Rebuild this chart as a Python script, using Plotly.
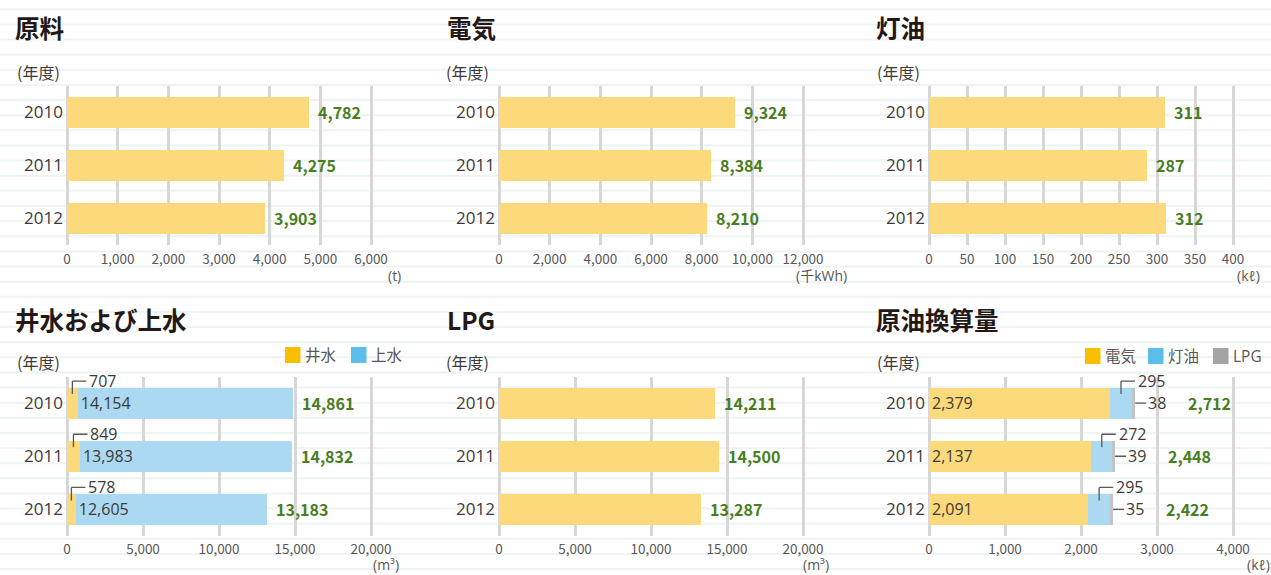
import plotly.graph_objects as go

# ---------------- data ----------------
years = ["2010", "2011", "2012"]

raw_material = [4782, 4275, 3903]          # 原料 (t)
electricity = [9324, 8384, 8210]           # 電気 (千kWh)
kerosene = [311, 287, 312]                 # 灯油 (kℓ)
well_water = [707, 849, 578]               # 井水 (m3)
city_water = [14154, 13983, 12605]         # 上水 (m3)
water_total = [14861, 14832, 13183]
lpg = [14211, 14500, 13287]                # LPG (m3)
crude_elec = [2379, 2137, 2091]            # 原油換算量 電気 (kℓ)
crude_kero = [295, 272, 295]               # 原油換算量 灯油
crude_lpg = [38, 39, 35]                   # 原油換算量 LPG
crude_total = [2712, 2448, 2422]

ticks_raw = [0, 1000, 2000, 3000, 4000, 5000, 6000]
ticks_elec = [0, 2000, 4000, 6000, 8000, 10000, 12000]
ticks_kero = [0, 50, 100, 150, 200, 250, 300, 350, 400]
ticks_water = [0, 5000, 10000, 15000, 20000]
ticks_lpg = [0, 5000, 10000, 15000, 20000]
ticks_crude = [0, 1000, 2000, 3000, 4000]

titles = ["原料", "電気", "灯油", "井水および上水", "LPG", "原油換算量"]
units = ["(t)", "(千kWh)", "(kℓ)", "(m³)", "(m³)", "(kℓ)"]
year_label = "(年度)"

# ---------------- style ----------------
W, H = 1271, 575
FONT = "Noto Sans CJK JP, Noto Sans, sans-serif"
NUMFONT = "Open Sans, Noto Sans CJK JP, sans-serif"
BAR_Y = "#fcd97b"
BAR_B = "#abd9f1"
BAR_G = "#c4c4c4"
KEY_Y = "#f9be00"
KEY_B = "#5bbde9"
KEY_G = "#a3a4a4"
GREEN = "#4a7d1e"
DARK = "#3e3a39"
TICK = "#595757"
GRID = "#d6d6d6"
STRIPE = "#eef4f3"

col_zero_px = [67, 499, 929]
span_px = 304
row_ydom_px = [(85.5, 244.5), (376.5, 536.0)]
row_tick_standoff = [5, 3]
title_x_px = [13, 445, 874]
title_y_px = [27, 319]
yearlbl_right_px = [62, 491, 922]
yearlbl_y_px = [72, 362]
# (right edge x, bottom y) of unit labels
unit_pos_px = [(402, 286), (848, 286), (1261, 286), (400, 575), (830, 575), (1271, 575)]


def fx(px):
    return px / W


def fy(py):
    return 1 - py / H


panel_ticks = [ticks_raw, ticks_elec, ticks_kero, ticks_water, ticks_lpg, ticks_crude]
pos = list(range(len(years)))

fig = go.Figure()
layout = {}
annotations = []
shapes = []

# background stripes
for k in range(38):
    yy = 9.3 + 15.13 * k
    shapes.append(dict(type="line", xref="paper", yref="paper", x0=0, x1=1,
                       y0=fy(yy), y1=fy(yy), line=dict(color=STRIPE, width=2), layer="below"))


def axis_names(k):
    s = "" if k == 0 else str(k + 1)
    return "x" + s, "y" + s, "xaxis" + s, "yaxis" + s


for k in range(6):
    row, col = divmod(k, 3)
    xr, yr, xa, ya = axis_names(k)
    vmax = panel_ticks[k][-1]
    s = span_px / vmax
    left_px = col_zero_px[col] - 3
    right_px = min(col_zero_px[col] + span_px + 35, W - 2)
    y0p, y1p = row_ydom_px[row]
    layout[xa] = dict(
        domain=[fx(left_px), fx(right_px)],
        range=[-3 / s, vmax + (right_px - col_zero_px[col] - span_px) / s],
        anchor=yr, tickvals=panel_ticks[k], tickformat=",d",
        showgrid=True, gridcolor=GRID, gridwidth=3,
        zeroline=True, zerolinecolor=GRID, zerolinewidth=3,
        showline=False, ticks="", fixedrange=True, ticklabelstandoff=row_tick_standoff[row],
        tickfont=dict(family=FONT, size=13.5, color=TICK),
    )
    layout[ya] = dict(
        domain=[fy(y1p), fy(y0p)], range=[2.5, -0.5], anchor=xr,
        tickvals=pos, ticktext=years, showgrid=False, zeroline=False,
        showline=False, ticks="", fixedrange=True,
        tickfont=dict(family=NUMFONT, size=17, color=DARK),
    )
    # title
    annotations.append(dict(text="<b>%s</b>" % titles[k], xref="paper", yref="paper",
                            x=fx(title_x_px[col]), y=fy(title_y_px[row]), xanchor="left",
                            yanchor="middle", showarrow=False,
                            font=dict(family=FONT, size=24.5, color="#231815")))
    # (年度)
    annotations.append(dict(text=year_label, xref="paper", yref="paper",
                            x=fx(yearlbl_right_px[col]), y=fy(yearlbl_y_px[row]),
                            xanchor="right", yanchor="middle", showarrow=False,
                            font=dict(family=FONT, size=16, color=DARK)))
    # unit
    ux, uy = unit_pos_px[k]
    annotations.append(dict(text=units[k], xref="paper", yref="paper",
                            x=fx(ux), y=fy(uy), xanchor="right", yanchor="bottom",
                            showarrow=False, borderpad=0,
                            font=dict(family=NUMFONT, size=14, color=TICK)))


BW = 0.585


def hbar(vals, color, k, text=None):
    xr, yr, _, _ = axis_names(k)
    return go.Bar(x=vals, y=pos, orientation="h", width=BW, marker=dict(color=color, line=dict(width=0)),
                  xaxis=xr, yaxis=yr, hoverinfo="skip", showlegend=False,
                  text=text, textposition="inside" if text else "none",
                  insidetextanchor="start", textangle=0,
                  textfont=dict(family=NUMFONT, size=16, color=DARK))


def fmt(v):
    return f"{v:,}"


# single-series panels
singles = {0: raw_material, 1: electricity, 2: kerosene, 4: lpg}
for k, vals in singles.items():
    fig.add_trace(hbar(vals, BAR_Y, k))

# water panel
fig.add_trace(hbar(well_water, BAR_Y, 3))
fig.add_trace(hbar(city_water, BAR_B, 3, [fmt(v) for v in city_water]))

# crude oil equivalent panel
fig.add_trace(hbar(crude_elec, BAR_Y, 5, [fmt(v) for v in crude_elec]))
fig.add_trace(hbar(crude_kero, BAR_B, 5))
fig.add_trace(hbar(crude_lpg, BAR_G, 5))

# total labels
totals = {0: (raw_material, 7), 1: (electricity, 7), 2: (kerosene, 7),
          3: (water_total, 7), 4: (lpg, 7), 5: (crude_total, 51)}
for k, (vals, shift) in totals.items():
    xr, yr, _, _ = axis_names(k)
    for i, v in enumerate(vals):
        end = v if k != 5 else crude_elec[i] + crude_kero[i] + crude_lpg[i]
        annotations.append(dict(text="<b>%s</b>" % fmt(v), xref=xr, yref=yr, x=end, y=i,
                                xanchor="left", yanchor="middle", xshift=shift, showarrow=False,
                                font=dict(family=FONT, size=16, color=GREEN)))


LEAD = "#595757"


def elbow_leader(k, xmid, i, label):
    xr, yr, _, _ = axis_names(k)
    common = dict(xref=xr, yref=yr, xsizemode="pixel", ysizemode="pixel",
                  xanchor=xmid, yanchor=i, line=dict(color=LEAD, width=1.3), layer="above")
    shapes.append(dict(type="line", x0=0, x1=0, y0=9, y1=22, **common))
    shapes.append(dict(type="line", x0=0, x1=14, y0=22, y1=22, **common))
    annotations.append(dict(text=label, xref=xr, yref=yr, x=xmid, y=i, xanchor="left",
                            yanchor="middle", xshift=15, yshift=22, showarrow=False,
                            font=dict(family=NUMFONT, size=16, color=DARK)))


for i, v in enumerate(well_water):
    elbow_leader(3, v / 2, i, fmt(v))

for i in range(len(years)):
    elbow_leader(5, crude_elec[i] + crude_kero[i] / 2, i, fmt(crude_kero[i]))
    end = crude_elec[i] + crude_kero[i] + crude_lpg[i]
    xr, yr, _, _ = axis_names(5)
    shapes.append(dict(type="line", xref=xr, yref=yr, xsizemode="pixel", ysizemode="pixel",
                       xanchor=end, yanchor=i, x0=0, x1=11, y0=0, y1=0,
                       line=dict(color=LEAD, width=1.3), layer="above"))
    annotations.append(dict(text=fmt(crude_lpg[i]), xref=xr, yref=yr, x=end, y=i,
                            xanchor="left", yanchor="middle", xshift=11, showarrow=False,
                            font=dict(family=NUMFONT, size=16, color=DARK)))

# legends (keys as shapes + labels)
legend_items = [
    (285, 355, KEY_Y, "井水"), (351, 355, KEY_B, "上水"),
    (1085, 356, KEY_Y, "電気"), (1148, 356, KEY_B, "灯油"), (1213, 356, KEY_G, "LPG"),
]
for lx, ly, c, t in legend_items:
    shapes.append(dict(type="rect", xref="paper", yref="paper", x0=fx(lx), x1=fx(lx + 15.5),
                       y0=fy(ly - 8), y1=fy(ly + 8), fillcolor=c, line=dict(width=0)))
    annotations.append(dict(text=t, xref="paper", yref="paper", x=fx(lx + 18), y=fy(ly),
                            xanchor="left", yanchor="middle", showarrow=False,
                            font=dict(family=NUMFONT, size=15.5, color=TICK)))

fig.update_layout(
    width=W, height=H, margin=dict(l=0, r=0, t=0, b=0),
    paper_bgcolor="white", plot_bgcolor="rgba(0,0,0,0)",
    barmode="stack", bargap=0.4, showlegend=False, hovermode=False,
    annotations=annotations, shapes=shapes,
    font=dict(family=FONT, color=DARK),
    **layout,
)

fig.write_html("out.html", config={"displayModeBar": False},
               post_script="document.body.style.margin='0';document.body.style.overflow='hidden';")
